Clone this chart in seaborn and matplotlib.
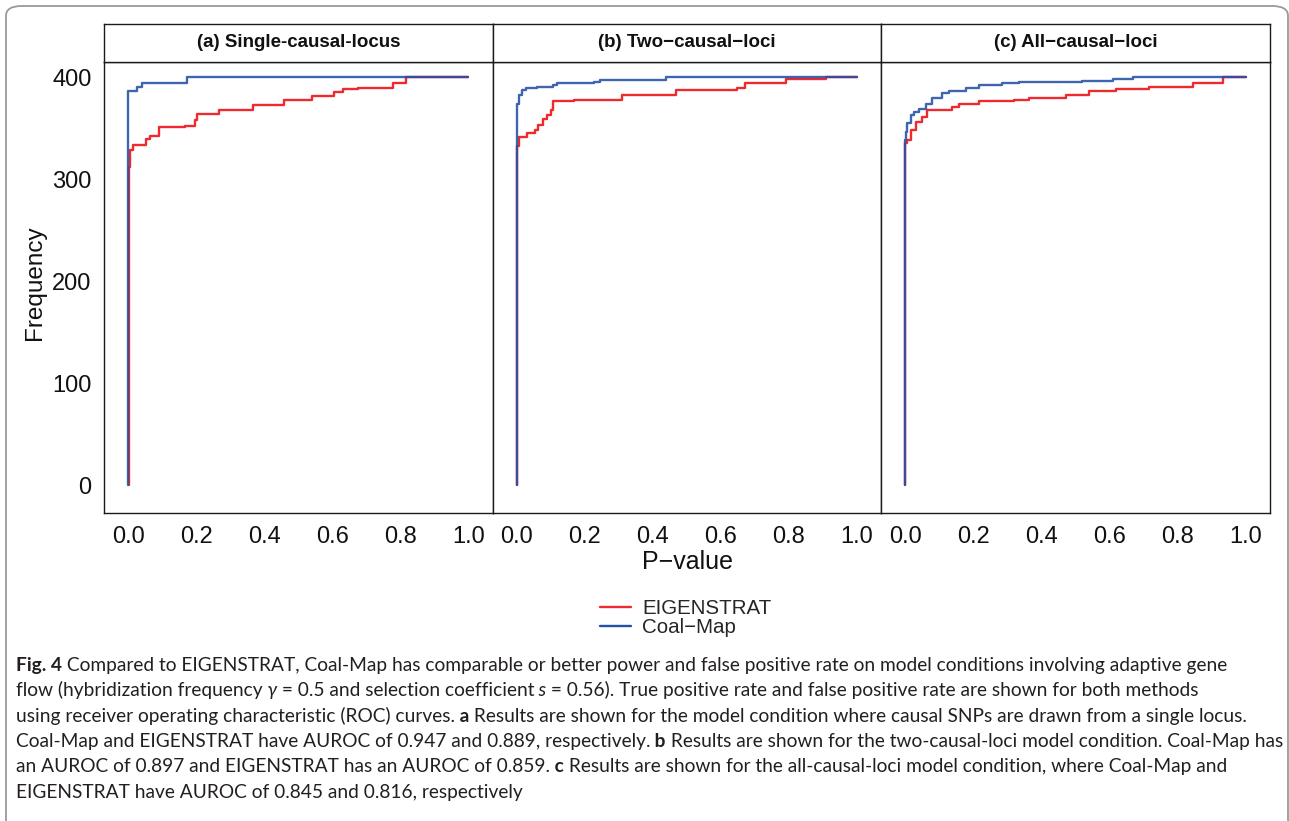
import pandas as pd
import matplotlib
matplotlib.use('Agg')
import matplotlib.pyplot as plt
import seaborn as sns
from matplotlib.lines import Line2D
from matplotlib.patches import FancyBboxPatch

# --- data: corners of the step curves (P-value, frequency) ---
a_eig_x = [0.003, 0.003, 0.006, 0.016, 0.052, 0.065, 0.091, 0.168, 0.197, 0.202, 0.268,
           0.366, 0.459, 0.541, 0.604, 0.631, 0.677, 0.78, 0.818, 1.0]
a_eig_y = [0, 312, 328, 333, 339, 342, 351, 352, 358, 364, 368,
           373, 377, 381, 385, 388, 389, 394, 400, 400]
a_coal_x = [0.0, 0.0, 0.025, 0.04, 0.172, 1.0]
a_coal_y = [0, 386, 390, 394, 400, 400]

b_eig_x = [0.001, 0.001, 0.006, 0.03, 0.055, 0.064, 0.077, 0.089, 0.1, 0.108, 0.167,
           0.309, 0.467, 0.646, 0.672, 0.79, 0.908, 1.0]
b_eig_y = [0, 332, 341, 345, 348, 353, 359, 363, 368, 376, 377,
           382, 387, 389, 394, 398, 400, 400]
b_coal_x = [0.0, 0.0, 0.001, 0.006, 0.016, 0.026, 0.06, 0.108, 0.118, 0.196, 0.226,
            0.245, 0.438, 1.0]
b_coal_y = [0, 371, 374, 382, 387, 389, 390, 392, 394, 394, 395,
            397, 400, 400]

c_eig_x = [0.0, 0.0, 0.006, 0.016, 0.03, 0.05, 0.063, 0.138, 0.158, 0.217, 0.32,
           0.364, 0.471, 0.54, 0.619, 0.717, 0.844, 0.932, 1.0]
c_eig_y = [0, 335, 338, 348, 356, 361, 368, 371, 374, 376, 377,
           379, 382, 386, 388, 390, 394, 400, 400]
c_coal_x = [0.0, 0.0, 0.001, 0.006, 0.016, 0.026, 0.04, 0.06, 0.079, 0.109, 0.128,
            0.177, 0.217, 0.285, 0.334, 0.52, 0.609, 0.668, 1.0]
c_coal_y = [0, 338, 346, 355, 363, 366, 369, 374, 379, 384, 386,
            389, 392, 394, 395, 396, 398, 400, 400]

panels = ['(a) Single-causal-locus', '(b) Two\u2212causal\u2212loci', '(c) All\u2212causal\u2212loci']
methods = ['EIGENSTRAT', 'Coal\u2212Map']
x_ticks = [0.0, 0.2, 0.4, 0.6, 0.8, 1.0]
y_ticks = [0, 100, 200, 300, 400]

curves = {
    (panels[0], methods[0]): (a_eig_x, a_eig_y),
    (panels[0], methods[1]): (a_coal_x, a_coal_y),
    (panels[1], methods[0]): (b_eig_x, b_eig_y),
    (panels[1], methods[1]): (b_coal_x, b_coal_y),
    (panels[2], methods[0]): (c_eig_x, c_eig_y),
    (panels[2], methods[1]): (c_coal_x, c_coal_y),
}
rows = []
for (panel, method), (xs, ys) in curves.items():
    for x, y in zip(xs, ys):
        rows.append({'panel': panel, 'method': method, 'pvalue': x, 'freq': y})
df = pd.DataFrame(rows)

palette = {methods[0]: '#EE2A2E', methods[1]: '#2450A6'}

# --- style ---
sns.set_theme(style='white')
plt.rcParams['font.family'] = ['Liberation Sans', 'DejaVu Sans']

W, H = 1289, 821
fig = plt.figure(figsize=(W / 100, H / 100), dpi=100)

# rounded page frame
frame = FancyBboxPatch((6 / W, -0.1), (1288 - 6) / W, 1 - 6 / H + 0.1,
                       boxstyle='round,pad=0,rounding_size=0.012',
                       transform=fig.transFigure, fill=False, ec='#9a9a9a', lw=1.3)
fig.patches.append(frame)

left0, right0 = 104, 1270
pw = (right0 - left0) / 3
ax_top, ax_bot = 61.7, 513.3
strip_top = 24

for i, panel in enumerate(panels):
    left = (left0 + i * pw) / W
    ax = fig.add_axes([left, 1 - ax_bot / H, pw / W, (ax_bot - ax_top) / H])
    sub = df[df['panel'] == panel]
    sns.lineplot(data=sub, x='pvalue', y='freq', hue='method', hue_order=methods,
                 palette=palette, sort=False, estimator=None, drawstyle='steps-post',
                 linewidth=1.7, legend=False, ax=ax)
    ax.lines[-1].set_alpha(0.88)
    ax.set_xlim(-0.0706, 1.0715)
    ax.set_ylim(-27.7, 415)
    ax.set_xticks(x_ticks)
    ax.set_xticklabels([f'{t:.1f}' for t in x_ticks])
    ax.set_xlabel('')
    ax.set_ylabel('')
    ax.tick_params(axis='both', direction='out', length=5, width=1, color='#555555',
                   labelsize=17, pad=4, labelcolor='#111111')
    if i == 0:
        ax.set_yticks(y_ticks)
    else:
        ax.set_yticks([])
    for s in ax.spines.values():
        s.set_color('#1a1a1a')
        s.set_linewidth(1.0)
    ax.set_facecolor('white')

    # facet strip
    sax = fig.add_axes([left, 1 - ax_top / H, pw / W, (ax_top - strip_top) / H])
    sax.set_xticks([])
    sax.set_yticks([])
    for s in sax.spines.values():
        s.set_color('#1a1a1a')
        s.set_linewidth(1.0)
    sax.text(0.5, 0.5, panel, ha='center', va='center', fontsize=13.5,
             fontweight='bold', color='#111111', transform=sax.transAxes)

fig.text(687 / W, 1 - 562 / H, 'P\u2212value', ha='center', va='center',
         fontsize=18, color='#111111')
fig.text(35 / W, 1 - 283 / H, 'Frequency', ha='center', va='center', rotation=90,
         fontsize=17.5, color='#111111')

handles = [Line2D([], [], color=palette[m], lw=1.7) for m in methods]
fig.legend(handles, methods, loc='center', bbox_to_anchor=(686 / W, 1 - 618 / H),
           frameon=False, fontsize=14.8, handlelength=1.5, handletextpad=0.55,
           labelspacing=0.0, borderpad=0)

# --- caption ---
B, N, I = 'bold', 'normal', 'italic'
caption = [
    [('Fig. 4', B), (' Compared to EIGENSTRAT, Coal-Map has comparable or better power and false '
                     'positive rate on model conditions involving adaptive gene', N)],
    [('flow (hybridization frequency', N), (' \u03b3', I), (' = 0.5 and selection coefficient', N),
     (' s', I), (' = 0.56). True positive rate and false positive rate are shown for both methods', N)],
    [('using receiver operating characteristic (ROC) curves.', N), (' a', B),
     (' Results are shown for the model condition where causal SNPs are drawn from a single locus.', N)],
    [('Coal-Map and EIGENSTRAT have AUROC of 0.947 and 0.889, respectively.', N), (' b', B),
     (' Results are shown for the two-causal-loci model condition. Coal-Map has', N)],
    [('an AUROC of 0.897 and EIGENSTRAT has an AUROC of 0.859.', N), (' c', B),
     (' Results are shown for the all-causal-loci model condition, where Coal-Map and', N)],
    [('EIGENSTRAT have AUROC of 0.845 and 0.816, respectively', N)],
]
cap_font = ['Lato', 'DejaVu Sans']
fig.canvas.draw()
renderer = fig.canvas.get_renderer()


def piece_kw(kind, size):
    kw = dict(fontsize=size, family=cap_font, color='#231f20', va='baseline', ha='left')
    if kind == B:
        kw['fontweight'] = 'bold'
    if kind == I:
        kw['fontstyle'] = 'italic'
    return kw


def line_width(line, size):
    total = 0
    for s, kind in line:
        t = fig.text(0, 0, s, **piece_kw(kind, size))
        total += t.get_window_extent(renderer).width
        t.remove()
    return total


base = 12.0
scale = (1228 - 16) / line_width(caption[0], base)
cap_size = base * scale

for k, line in enumerate(caption):
    x = 16
    y = 671 + 25.3 * k
    for s, kind in line:
        t = fig.text(x / W, 1 - y / H, s, **piece_kw(kind, cap_size))
        x += t.get_window_extent(renderer).width

fig.savefig('out.png', dpi=100, facecolor='white')
